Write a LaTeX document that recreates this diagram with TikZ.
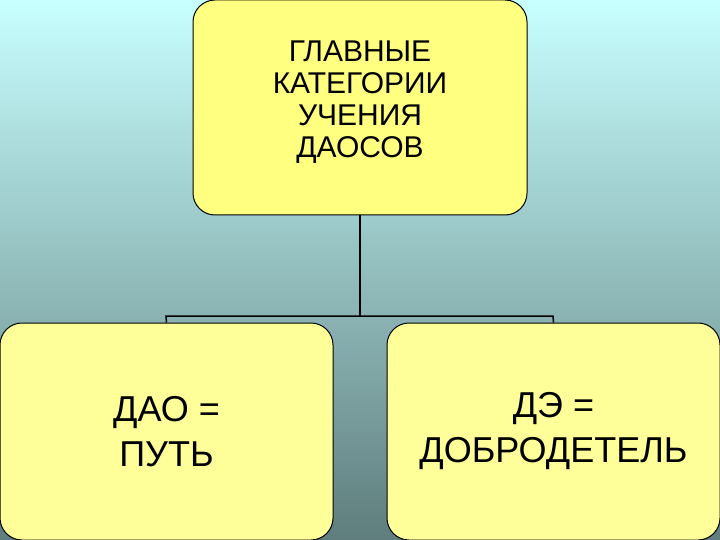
\documentclass[tikz,border=0pt]{standalone}
\usepackage{fontspec}
\setmainfont{Liberation Sans}
\begin{document}
\begin{tikzpicture}[x=1pt,y=-1pt,
  box/.style={draw=black, line width=1pt, rounded corners=22pt, align=center},
  conn/.style={draw=black, line width=1.5pt}]
\shade[top color={rgb,255:red,200;green,255;blue,255}, bottom color={rgb,255:red,95;green,125;blue,125}] (0,0) rectangle (720,540);
\useasboundingbox (0,0) rectangle (720,540);
\node[box, fill={rgb,255:red,255;green,255;blue,128}, minimum width=334pt, minimum height=215pt] (top) at (360,107.5) {};
\node[font=\fontsize{30}{32}\selectfont, align=center] (toptext) at (360,102) {ГЛАВНЫЕ\\КАТЕГОРИИ\\УЧЕНИЯ\\ДАОСОВ};
\node[box, fill={rgb,255:red,255;green,255;blue,153}, minimum width=333pt, minimum height=217pt, font=\fontsize{36}{45}\selectfont] (left) at (166.5,431.5) {ДАО =\\ПУТЬ};
\node[box, fill={rgb,255:red,255;green,255;blue,153}, minimum width=333pt, minimum height=217pt, font=\fontsize{36}{45}\selectfont] (right) at (553.5,431.5) {ДЭ =\\ДОБРОДЕТЕЛЬ};
\coordinate (j) at (360,316);
\draw[conn] (top.south) -- (j);
\draw[conn] (left.north) -- (166,316) -- (553,316) -- (right.north);
\end{tikzpicture}
\end{document}
